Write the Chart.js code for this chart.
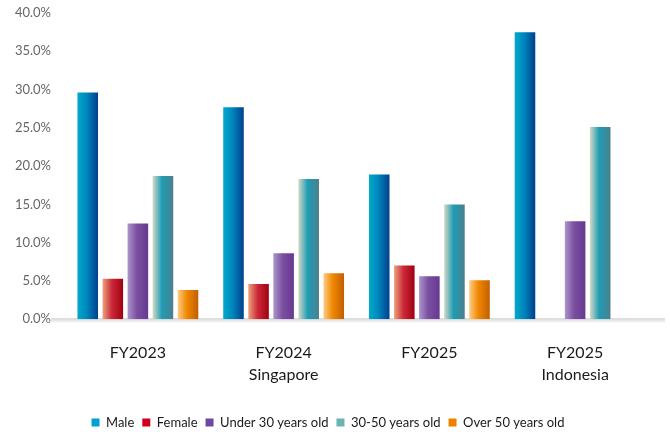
<!doctype html>
<html lang="en">
<head>
<meta charset="utf-8">
<title>Turnover chart</title>
<style>
  *{ margin:0; padding:0; box-sizing:border-box; }
  body{ background:#fff; }
  .chartbox{ width:670px; height:434px; }
</style>
</head>
<body>
<div class="chartbox"><canvas id="myChart"></canvas></div>
<script src="https://cdn.jsdelivr.net/npm/chart.js@4.4.1/dist/chart.umd.min.js"></script>
<script>
const categories = [['FY2023'], ['FY2024', 'Singapore'], ['FY2025'], ['FY2025', 'Indonesia']];
const male = [29.6, 27.7, 18.9, 37.5];
const female = [5.3, 4.6, 7.0, null];
const under30 = [12.5, 8.6, 5.6, 12.8];
const age30to50 = [18.7, 18.3, 15.0, 25.1];
const over50 = [3.8, 6.0, 5.1, null];
const yTicks = [0, 5, 10, 15, 20, 25, 30, 35, 40];

// solid colour for the legend, gradient stops for the bars
const seriesStyle = [
  { label: 'Male', data: male, color: '#00a0d2', stops: ['#00aacb', '#0086bd', '#003f8c'] },
  { label: 'Female', data: female, color: '#d0001c', stops: ['#eba47c', '#cc2a3a', '#a0000f'] },
  { label: 'Under 30 years old', data: under30, color: '#6f47a0', stops: ['#ac96cc', '#7a4f9f', '#673892'] },
  { label: '30-50 years old', data: age30to50, color: '#6ab5b1', stops: ['#d3d8c7', '#1e9db4', '#4b7f8e'] },
  { label: 'Over 50 years old', data: over50, color: '#ef8100', stops: ['#fdcc84', '#ef8700', '#c25f00'] }
];

const barShading = {
  id: 'barShading',
  beforeDatasetsDraw(chart) {
    const ctx = chart.ctx;
    const y0 = chart.scales.y.getPixelForValue(0);
    // floor strip
    const fg = ctx.createLinearGradient(0, y0 - 1, 0, y0 + 4);
    fg.addColorStop(0, '#d4d4d4');
    fg.addColorStop(1, '#ffffff');
    ctx.save();
    ctx.fillStyle = fg;
    ctx.fillRect(chart.chartArea.left - 14, y0 - 1, chart.width - chart.chartArea.left + 9, 5);
    ctx.restore();

    chart.data.datasets.forEach((ds, i) => {
      const st = seriesStyle[i].stops;
      chart.getDatasetMeta(i).data.forEach(bar => {
        const { x, width } = bar.getProps(['x', 'width'], true);
        if (!isFinite(x) || !width) return;
        const g = ctx.createLinearGradient(x - width / 2, 0, x + width / 2, 0);
        g.addColorStop(0, st[0]);
        g.addColorStop(0.45, st[1]);
        g.addColorStop(1, st[2]);
        bar.options = Object.assign({}, bar.options, { backgroundColor: g });
      });
    });
  }
};

const ctx = document.getElementById('myChart').getContext('2d');
const myChart = new Chart(ctx, {
  type: 'bar',
  data: {
    labels: categories,
    datasets: seriesStyle.map(s => ({
      label: s.label,
      data: s.data,
      backgroundColor: s.color,
      borderWidth: 0,
      barPercentage: 0.82,
      categoryPercentage: 0.86
    }))
  },
  options: {
    responsive: true,
    maintainAspectRatio: false,
    animation: false,
    layout: { padding: { left: 8, right: 22, top: 13, bottom: -5 } },
    plugins: {
      tooltip: { enabled: false },
      legend: {
        position: 'bottom',
        labels: {
          boxWidth: 8,
          boxHeight: 8,
          padding: 8,
          color: '#1a1a1a',
          font: { family: 'Lato', size: 13 }
        }
      }
    },
    scales: {
      x: {
        grid: { display: false, drawTicks: false },
        border: { display: false },
        ticks: { color: '#1a1a1a', font: { family: 'Lato', size: 16, lineHeight: 1.4 }, padding: 22 }
      },
      y: {
        min: 0,
        max: 40,
        afterBuildTicks(scale) { scale.ticks = yTicks.map(v => ({ value: v })); },
        afterFit(scale) {
          scale.width = 57;
          scale.paddingTop = 0;
          scale.paddingBottom = 0;
        },
        grid: { display: false, drawTicks: false },
        border: { display: false },
        ticks: {
          color: '#666666',
          font: { family: 'Lato', size: 13 },
          padding: 14,
          callback: v => v.toFixed(1) + '%'
        }
      }
    }
  },
  plugins: [barShading]
});
</script>
</body>
</html>
